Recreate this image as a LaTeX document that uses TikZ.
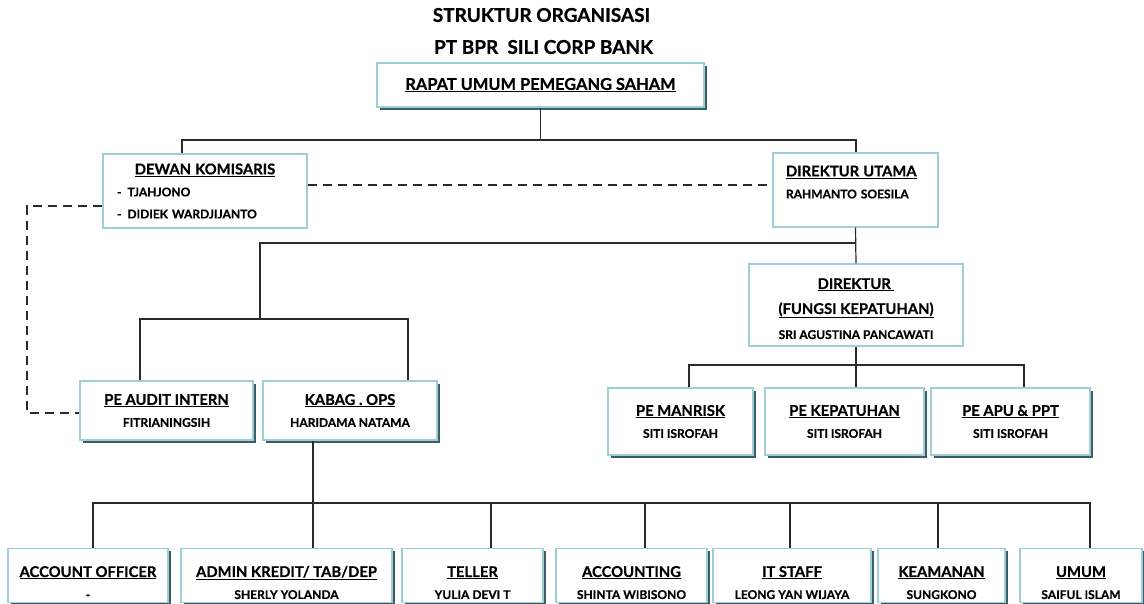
\documentclass[tikz,border=0pt]{standalone}
\usepackage{fontspec}
\setmainfont{Lato}[BoldFeatures={FakeBold=0.6}]
\usetikzlibrary{shadows}
\definecolor{bordc}{HTML}{9CCFD7}
\definecolor{shadc}{HTML}{3E5C66}
\definecolor{linec}{HTML}{2A2A2A}
\newcommand{\hd}[1]{{\fontsize{14.8}{22}\selectfont\underline{#1}}}
\newcommand{\topgap}[1]{\rule{0pt}{#1}}
\newcommand{\botgap}[1]{\rule[-#1]{0pt}{#1}}
\begin{document}
\begin{tikzpicture}[x=1pt,y=-1pt,
  box/.style={draw=bordc, line width=1.1pt, fill=white, inner sep=0pt, align=center,
    font=\bfseries\fontsize{12}{22}\selectfont},
  sbox/.style={box, drop shadow={shadow xshift=2.5pt,shadow yshift=-2.5pt,opacity=1,fill=shadc}},
  conn/.style={draw=linec, line width=1.2pt},
  dconn/.style={conn, dash pattern=on 9pt off 6pt},
  ttl/.style={font=\bfseries\fontsize{19}{22}\selectfont, inner sep=0pt},
  brow/.style={sbox, minimum height=54pt},
  perow/.style={sbox, minimum height=67pt},
]
\useasboundingbox (0,0) rectangle (1144,603);

% titles
\node[ttl] (t1) at (541.5,15) {STRUKTUR ORGANISASI};
\node[ttl] (t2) at (543.5,47) {PT BPR\ \ SILI CORP BANK};

% boxes
\node[sbox, minimum width=327pt, minimum height=44pt, font=\bfseries\fontsize{16.4}{22}\selectfont] (rups) at (540.5,85) {\underline{RAPAT UMUM PEMEGANG SAHAM}};

\node[box, minimum width=204pt, minimum height=74pt, text width=176pt, align=left] (dk) at (205,191)
  {\makebox[\linewidth]{\hd{DEWAN KOMISARIS}}\\ -\hspace{6pt}TJAHJONO\\ -\hspace{6pt}DIDIEK WARDJIJANTO};

\node[box, minimum width=165pt, minimum height=74pt, text width=139pt, align=left] (du) at (855.5,190)
  {\hd{DIREKTUR UTAMA}\\ RAHMANTO SOESILA\botgap{16pt}};

\node[box, minimum width=214pt, minimum height=82pt, font=\bfseries\fontsize{12}{25}\selectfont] (dir) at (856,305)
  {\hd{DIREKTUR }\topgap{18pt}\\ \hd{(FUNGSI KEPATUHAN)}\\ SRI AGUSTINA PANCAWATI};

\node[sbox, minimum width=173pt, minimum height=59pt] (audit) at (166.5,410.5) {\hd{PE AUDIT INTERN}\\ FITRIANINGSIH};
\node[sbox, minimum width=174pt, minimum height=59pt] (kabag) at (350,410.5) {\hd{KABAG . OPS}\\ HARIDAMA NATAMA};

\node[perow, minimum width=145pt] (manrisk) at (680.5,421.5) {\hd{PE MANRISK}\\ SITI ISROFAH};
\node[perow, minimum width=159pt] (kepat) at (844.5,421.5) {\hd{PE KEPATUHAN}\\ SITI ISROFAH};
\node[perow, minimum width=159pt] (apu) at (1010.5,421.5) {\hd{PE APU \& PPT}\\ SITI ISROFAH};

\node[brow, minimum width=160pt] (ao) at (88,575.5) {\hd{ACCOUNT OFFICER}\topgap{25pt}\\ -};
\node[brow, minimum width=211pt] (admin) at (286.5,575.5) {\hd{ADMIN KREDIT/ TAB/DEP}\topgap{25pt}\\ SHERLY YOLANDA};
\node[brow, minimum width=141pt] (teller) at (472.5,575.5) {\hd{TELLER}\topgap{25pt}\\ YULIA DEVI T};
\node[brow, minimum width=151pt] (acct) at (631.5,575.5) {\hd{ACCOUNTING}\topgap{25pt}\\ SHINTA WIBISONO};
\node[brow, minimum width=158pt] (it) at (792,575.5) {\hd{IT STAFF}\topgap{25pt}\\ LEONG YAN WIJAYA};
\node[brow, minimum width=127pt] (keam) at (941.5,575.5) {\hd{KEAMANAN}\topgap{25pt}\\ SUNGKONO};
\node[brow, minimum width=122pt] (umum) at (1081,575.5) {\hd{UMUM}\topgap{25pt}\\ SAIFUL ISLAM};

% connectors level 1
\coordinate (b1l) at (182,140);
\coordinate (b1r) at (856,140);
\draw[conn] (rups.south) -- (rups.south |- b1l);
\draw[conn] ([xshift=-23pt]dk.north) -- (b1l) -- (b1r) -- (du.north -| b1r);

% dashed lines
\coordinate (dy) at (0,185);
\draw[dconn] (dk.east |- dy) -- (du.west |- dy);
\coordinate (dc1) at (27,206);
\coordinate (dc2) at (27,413);
\draw[dconn] (dk.west |- dc1) -- (dc1) -- (dc2) -- (audit.west |- dc2);

% direktur utama downwards
\coordinate (b2) at (260,243);
\coordinate (b3) at (260,319);
\coordinate (b3l) at (140,319);
\coordinate (b3r) at (408,319);
\draw[conn] (du.south) -- (dir.north);
\draw[conn] (du.south |- b2) -- (b2) -- (b3);
\draw[conn] ([xshift=-26.5pt]audit.north) -- (b3l) -- (b3r) -- ([xshift=58pt]kabag.north);

% direktur kepatuhan downwards
\coordinate (b4l) at (689,365);
\coordinate (b4r) at (1024,365);
\draw[conn] (dir.south) -- (dir.south |- kepat.north);
\draw[conn] ([xshift=8.5pt]manrisk.north) -- (b4l) -- (b4r) -- ([xshift=13.5pt]apu.north);

% kabag ops downwards
\coordinate (b5l) at (93,503);
\coordinate (b5r) at (1090,503);
\draw[conn] ([xshift=-37pt]kabag.south) |- (b5l);
\draw[conn] ([xshift=5pt]ao.north) -- (b5l) -- (b5r) -- ([xshift=9pt]umum.north);
\draw[conn] ([xshift=26.5pt]admin.north) |- (b5l);
\draw[conn] ([xshift=18.5pt]teller.north) |- (b5l);
\draw[conn] ([xshift=13.5pt]acct.north) |- (b5l);
\draw[conn] ([xshift=-2pt]it.north) |- (b5l);
\draw[conn] ([xshift=-3.5pt]keam.north) |- (b5l);
\end{tikzpicture}
\end{document}
